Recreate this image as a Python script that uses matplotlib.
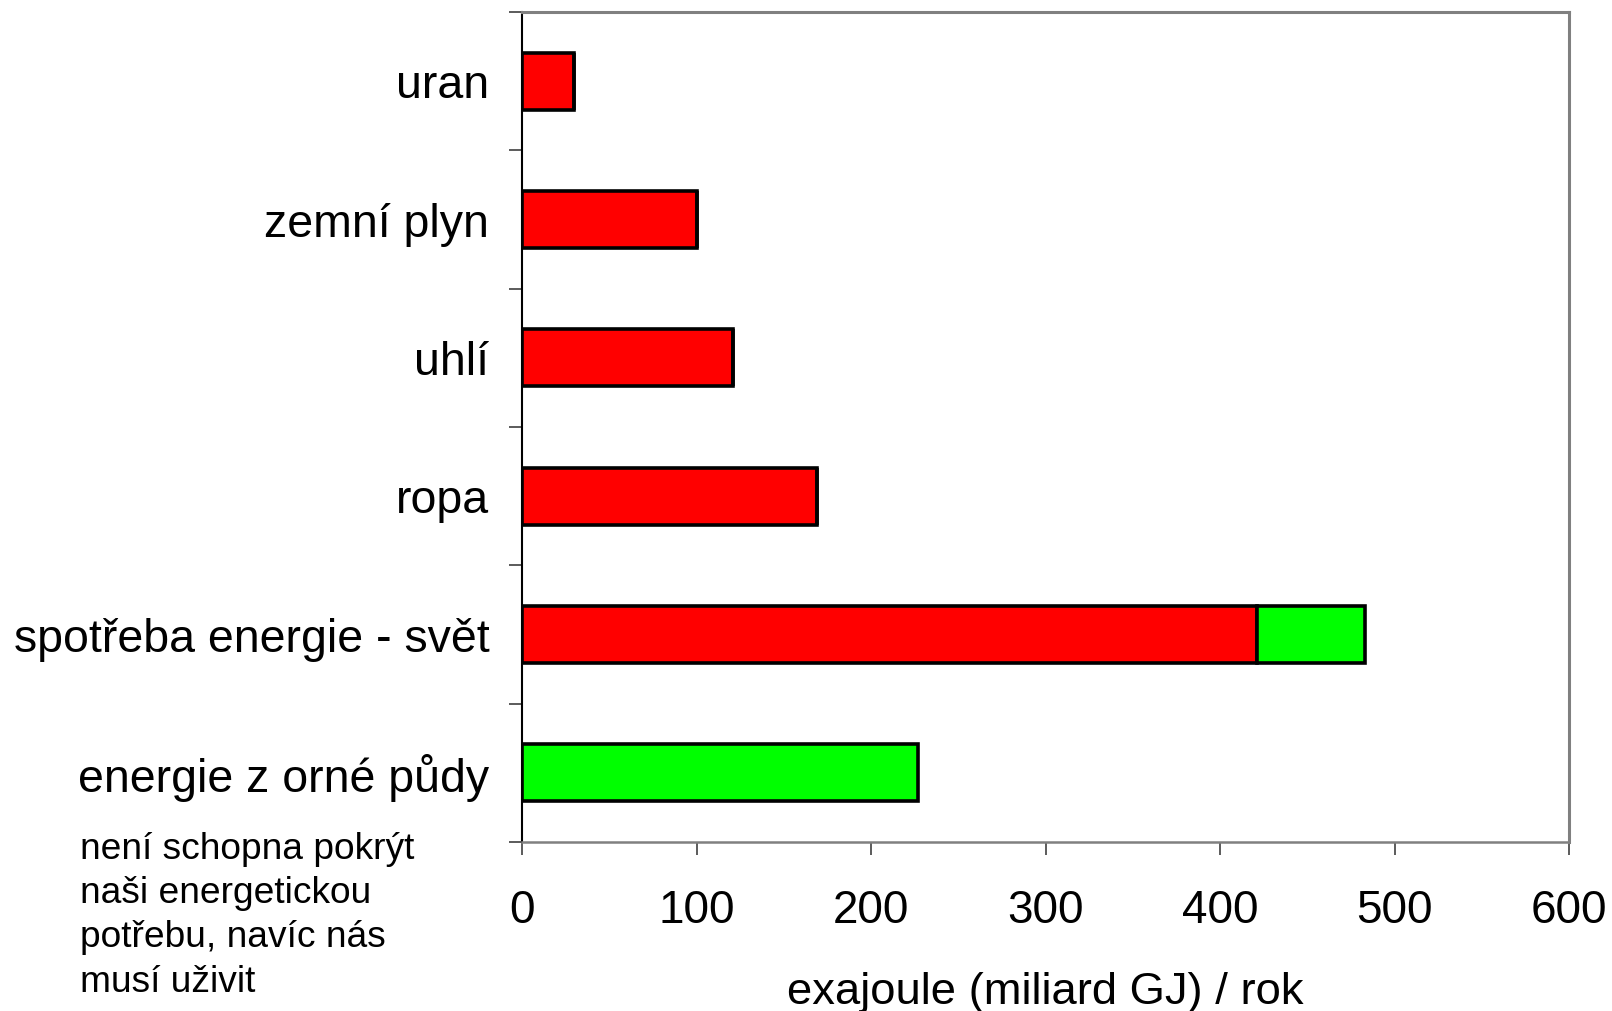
import matplotlib
matplotlib.use("Agg")
import matplotlib.pyplot as plt
import numpy as np

plt.rcParams['font.family'] = ['Liberation Sans', 'DejaVu Sans']

categories = ["uran", "zemní plyn", "uhlí", "ropa", "spotřeba energie - svět", "energie z orné půdy"]
red_values = [30, 100, 121, 169, 421, 0]
green_values = [0, 0, 0, 0, 62, 227]
xticks = [0, 100, 200, 300, 400, 500, 600]
xlabel = "exajoule (miliard GJ) / rok"
note = "není schopna pokrýt\nnaši energetickou\npotřebu, navíc nás\nmusí uživit"

W, H = 1612, 1011
fig = plt.figure(figsize=(W / 100, H / 100), dpi=100)
ax = fig.add_axes([522 / W, 1 - 842 / H, (1569 - 522) / W, (842 - 12) / H])

y = np.arange(len(categories))
bh = 0.41
ax.barh(y, red_values, height=bh, color="#FF0000", edgecolor="black", linewidth=2.6)
ax.barh(y, green_values, left=red_values, height=bh, color="#00FF00", edgecolor="black", linewidth=2.6)

ax.set_xlim(0, 600)
ax.set_ylim(len(categories) - 0.5, -0.5)
ax.set_xticks(xticks)
ax.set_xticklabels([str(v) for v in xticks], fontsize=33)
ax.set_yticks(y)
ax.set_yticklabels(categories, fontsize=33.5)
ax.set_yticks(np.arange(-0.5, len(categories)), minor=True)

ax.tick_params(axis='y', which='major', length=0, pad=23.5)
ax.tick_params(axis='y', which='minor', length=9.4, width=1.2, color="#404040", direction='out')
ax.tick_params(axis='x', which='major', length=9.4, width=1.2, color="#404040", direction='out', pad=24.5)

ax.spines['left'].set_color('black')
ax.spines['left'].set_linewidth(1.5)
for s in ['top', 'right']:
    ax.spines[s].set_color('#808080')
    ax.spines[s].set_linewidth(2.2)
ax.spines['bottom'].set_color('#808080')
ax.spines['bottom'].set_linewidth(1.8)

ax.set_xlabel(xlabel, fontsize=32.7, labelpad=28)

fig.text(80 / W, 1 - 832 / H, note, fontsize=26.7, ha='left', va='top', linespacing=1.34)

fig.savefig("out.png", dpi=100)
